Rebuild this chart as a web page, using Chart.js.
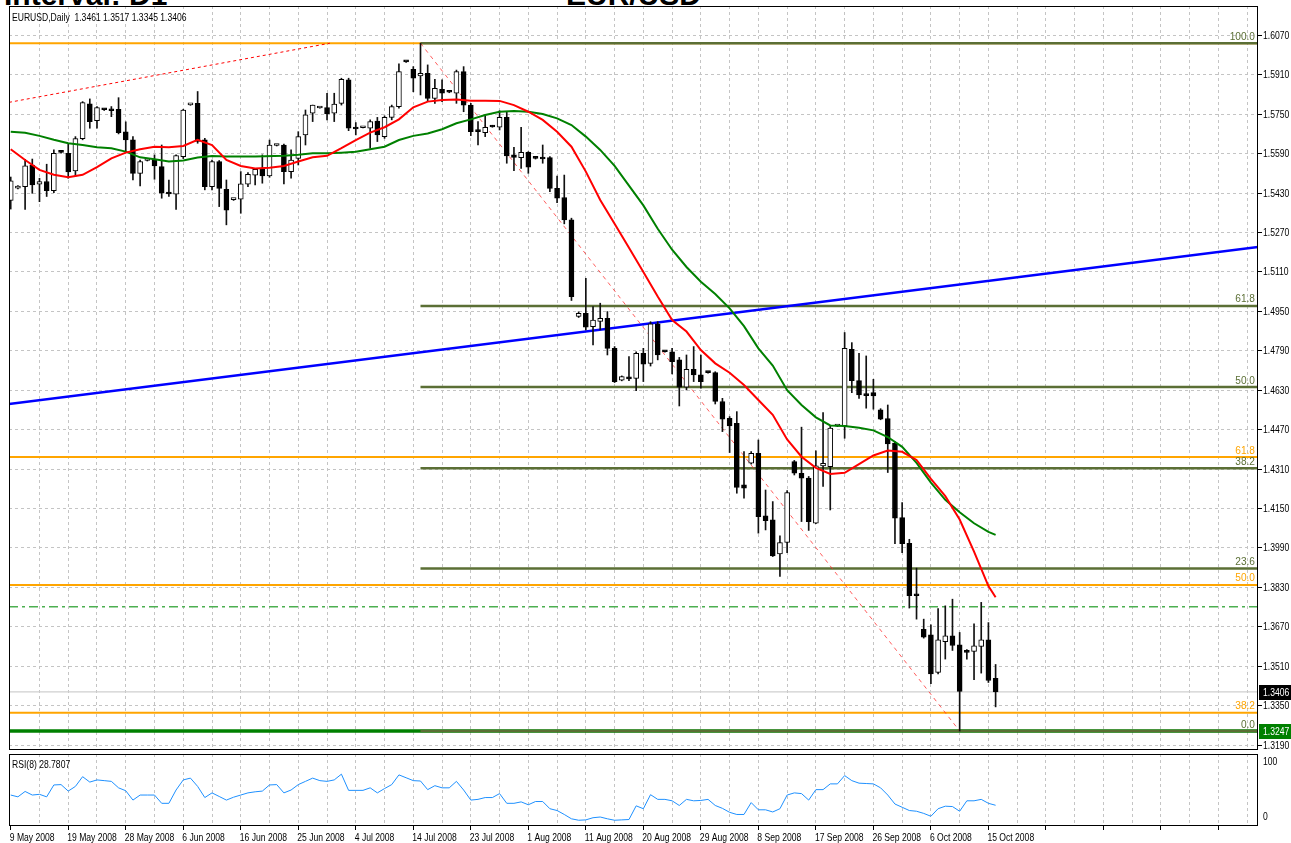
<!DOCTYPE html>
<html>
<head>
<meta charset="utf-8">
<script src="https://cdn.jsdelivr.net/npm/chart.js@4.4.1/dist/chart.umd.min.js"></script>
<style>
  body { margin: 0; background: #fff; width: 1291px; height: 843px; overflow: hidden; position: relative; }
  canvas { position: absolute; left: 0; }
  #main { top: 0; }
  #rsi { top: 752px; }
  .title { position: absolute; top: -20px; font: bold 30px 'Liberation Sans', sans-serif; line-height: 30px; white-space: nowrap; }
  .info { position: absolute; font: 11px 'Liberation Sans', sans-serif; line-height: 13px; white-space: nowrap; color: #000;
          transform: scaleX(0.78); transform-origin: 0 0; }
</style>
</head>
<body>
<div class="title" style="left:4px">Interval: D1</div>
<div class="title" style="left:566px">EUR/USD</div>
<canvas id="main" width="1291" height="752"></canvas>
<canvas id="rsi" width="1291" height="91"></canvas>
<div class="info" style="left:12px;top:11px">EURUSD,Daily&nbsp; 1.3461 1.3517 1.3345 1.3406</div>
<div class="info" style="left:12px;top:758px">RSI(8) 28.7807</div>
<script>
// EURUSD daily, 9 May - 16 Oct 2008 (broker with Sunday bars), price + RSI(8)

const PRICE_TICKS = [1.6070, 1.5910, 1.5750, 1.5590, 1.5430, 1.5270, 1.5110, 1.4950, 1.4790,
  1.4630, 1.4470, 1.4310, 1.4150, 1.3990, 1.3830, 1.3670, 1.3510, 1.3350, 1.3190];

const DATE_LABELS = ['9 May 2008', '19 May 2008', '28 May 2008', '6 Jun 2008', '16 Jun 2008',
  '25 Jun 2008', '4 Jul 2008', '14 Jul 2008', '23 Jul 2008', '1 Aug 2008', '11 Aug 2008',
  '20 Aug 2008', '29 Aug 2008', '8 Sep 2008', '17 Sep 2008', '26 Sep 2008', '6 Oct 2008', '15 Oct 2008'];

// one entry per bar, bar 0 = 9 May 2008
const OPEN = [1.5400,1.5450,1.5456,1.5543,1.5466,1.5477,1.5440,1.5597,1.5591,1.5520,
  1.5651,1.5792,1.5724,1.5770,1.5771,1.5770,1.5678,1.5646,1.5510,1.5562,
  1.5564,1.5537,1.5432,1.5425,1.5578,1.5788,1.5794,1.5646,1.5456,1.5558,
  1.5445,1.5403,1.5405,1.5466,1.5503,1.5526,1.5499,1.5623,1.5625,1.5517,
  1.5571,1.5666,1.5754,1.5775,1.5777,1.5754,1.5794,1.5889,1.5693,1.5695,
  1.5693,1.5722,1.5659,1.5737,1.5781,1.5964,1.5932,1.5905,1.5916,1.5814,
  1.5851,1.5840,1.5835,1.5923,1.5787,1.5686,1.5675,1.5703,1.5697,1.5737,
  1.5585,1.5574,1.5595,1.5573,1.5571,1.5574,1.5449,1.5412,1.5321,1.4929,
  1.4942,1.4888,1.4909,1.4922,1.4800,1.4671,1.4680,1.4678,1.4780,1.4739,
  1.4899,1.4788,1.4786,1.4753,1.4642,1.4715,1.4692,1.4703,1.4701,1.4584,
  1.4516,1.4496,1.4246,1.4334,1.4374,1.4120,1.4104,1.3966,1.4012,1.4340,
  1.4293,1.4273,1.4090,1.4323,1.4320,1.4484,1.4485,1.4796,1.4669,1.4615,
  1.4620,1.4550,1.4515,1.4415,1.4113,1.4009,1.3803,1.3660,1.3637,1.3485,
  1.3610,1.3633,1.3597,1.3568,1.3570,1.3590,1.3617,1.3461];
const HIGH = [1.5495,1.5460,1.5567,1.5568,1.5490,1.5547,1.5605,1.5600,1.5628,1.5659,
  1.5801,1.5812,1.5781,1.5772,1.5781,1.5817,1.5719,1.5659,1.5564,1.5566,
  1.5585,1.5625,1.5483,1.5585,1.5770,1.5792,1.5842,1.5652,1.5564,1.5562,
  1.5483,1.5407,1.5517,1.5513,1.5530,1.5585,1.5645,1.5627,1.5629,1.5605,
  1.5679,1.5767,1.5787,1.5779,1.5835,1.5835,1.5896,1.5896,1.5716,1.5699,
  1.5727,1.5737,1.5743,1.5787,1.5954,1.5966,1.5943,1.6038,1.5950,1.5891,
  1.5889,1.5842,1.5929,1.5943,1.5794,1.5720,1.5747,1.5705,1.5764,1.5760,
  1.5616,1.5697,1.5598,1.5575,1.5625,1.5578,1.5499,1.5503,1.5328,1.4948,
  1.5084,1.4969,1.4983,1.4949,1.4807,1.4688,1.4766,1.4786,1.4800,1.4908,
  1.4908,1.4790,1.4800,1.4763,1.4773,1.4807,1.4773,1.4705,1.4705,1.4597,
  1.4523,1.4543,1.4381,1.4381,1.4428,1.4225,1.4178,1.4039,1.4223,1.4345,
  1.4480,1.4280,1.4384,1.4539,1.4485,1.4487,1.4864,1.4823,1.4780,1.4769,
  1.4674,1.4555,1.4570,1.4422,1.4174,1.4025,1.3908,1.3701,1.3678,1.3744,
  1.3755,1.3782,1.3647,1.3577,1.3682,1.3769,1.3687,1.3517];
const LOW = [1.5365,1.5447,1.5364,1.5429,1.5395,1.5416,1.5432,1.5592,1.5490,1.5497,
  1.5646,1.5693,1.5693,1.5765,1.5740,1.5670,1.5598,1.5483,1.5459,1.5560,
  1.5486,1.5409,1.5416,1.5364,1.5570,1.5786,1.5632,1.5443,1.5443,1.5375,
  1.5301,1.5400,1.5348,1.5456,1.5463,1.5470,1.5494,1.5621,1.5467,1.5490,
  1.5544,1.5625,1.5720,1.5774,1.5727,1.5720,1.5787,1.5683,1.5666,1.5694,
  1.5612,1.5639,1.5652,1.5727,1.5774,1.5960,1.5841,1.5828,1.5801,1.5794,
  1.5801,1.5837,1.5794,1.5760,1.5663,1.5625,1.5659,1.5697,1.5686,1.5551,
  1.5521,1.5530,1.5510,1.5568,1.5551,1.5436,1.5391,1.5305,1.4994,1.4925,
  1.4875,1.4814,1.4875,1.4773,1.4661,1.4668,1.4669,1.4628,1.4665,1.4728,
  1.4753,1.4784,1.4696,1.4566,1.4631,1.4665,1.4638,1.4699,1.4574,1.4462,
  1.4377,1.4212,1.4192,1.4330,1.4050,1.4063,1.3955,1.3874,1.3971,1.4286,
  1.4097,1.4061,1.4088,1.4240,1.4144,1.4482,1.4435,1.4620,1.4597,1.4557,
  1.4553,1.4510,1.4296,1.4007,1.3971,1.3746,1.3701,1.3624,1.3439,1.3479,
  1.3539,1.3574,1.3247,1.3539,1.3455,1.3482,1.3444,1.3345];
const CLOSE = [1.5480,1.5456,1.5540,1.5463,1.5477,1.5440,1.5591,1.5595,1.5516,1.5651,
  1.5797,1.5720,1.5777,1.5768,1.5764,1.5675,1.5646,1.5510,1.5558,1.5564,
  1.5540,1.5429,1.5426,1.5582,1.5767,1.5790,1.5639,1.5456,1.5558,1.5449,
  1.5361,1.5405,1.5467,1.5506,1.5526,1.5499,1.5625,1.5625,1.5517,1.5564,
  1.5659,1.5747,1.5787,1.5777,1.5751,1.5791,1.5891,1.5693,1.5690,1.5697,
  1.5720,1.5666,1.5737,1.5781,1.5923,1.5962,1.5896,1.5916,1.5814,1.5855,
  1.5835,1.5839,1.5923,1.5787,1.5679,1.5679,1.5697,1.5698,1.5737,1.5581,
  1.5575,1.5595,1.5535,1.5571,1.5568,1.5449,1.5409,1.5321,1.5010,1.4942,
  1.4886,1.4915,1.4922,1.4800,1.4665,1.4685,1.4676,1.4780,1.4736,1.4899,
  1.4773,1.4786,1.4746,1.4642,1.4715,1.4692,1.4665,1.4701,1.4584,1.4512,
  1.4485,1.4236,1.4232,1.4374,1.4117,1.4101,1.3958,1.4012,1.4215,1.4293,
  1.4273,1.4097,1.4323,1.4333,1.4476,1.4485,1.4800,1.4669,1.4611,1.4608,
  1.4607,1.4512,1.4412,1.4111,1.4007,1.3796,1.3796,1.3628,1.3479,1.3617,
  1.3633,1.3594,1.3408,1.3566,1.3593,1.3617,1.3452,1.3406];

// moving averages, read at sampled bars
const RED_MA_BAR = [0,2,4,6,8,10,12,14,16,18,20,22,24,26,28,30,32,34,36,38,40,42,44,46,48,50,52,54,56,58,
  60,62,64,66,68,70,72,74,76,78,80,82,84,86,88,90,92,94,96,98,100,102,104,106,108,110,112,114,116,118,
  120,122,124,126,128,130,132,134,136,137];
const RED_MA = [1.5608,1.5564,1.5524,1.5504,1.5494,1.5504,1.5535,1.5571,1.5594,1.5608,1.5618,1.5616,1.5621,1.5646,1.5625,
  1.5564,1.5540,1.5530,1.5533,1.5540,1.5558,1.5575,1.5581,1.5612,1.5645,1.5675,1.5697,1.5729,1.5778,1.5801,
  1.5808,1.5810,1.5805,1.5805,1.5804,1.5787,1.5760,1.5727,1.5679,1.5618,1.5517,1.5402,1.5305,1.5208,1.5110,
  1.5010,1.4915,1.4868,1.4793,1.4739,1.4701,1.4651,1.4590,1.4530,1.4430,1.4360,1.4315,1.4290,1.4295,1.4330,
  1.4365,1.4385,1.4380,1.4347,1.4270,1.4200,1.4105,1.3975,1.3835,1.3790];
const GREEN_MA_BAR = [0,2,4,6,8,10,12,14,16,18,20,22,24,26,28,30,34,38,40,42,44,46,48,50,52,54,56,58,
  60,62,64,66,68,70,72,74,76,78,80,82,84,86,88,90,92,94,96,98,100,102,104,106,108,110,112,114,116,118,
  120,122,124,126,128,130,132,134,136,137];
const GREEN_MA = [1.5679,1.5675,1.5662,1.5646,1.5632,1.5625,1.5616,1.5612,1.5598,1.5575,1.5567,1.5558,1.5562,1.5574,
  1.5580,1.5578,1.5578,1.5581,1.5585,1.5591,1.5591,1.5594,1.5598,1.5608,1.5618,1.5645,1.5662,1.5672,
  1.5689,1.5713,1.5729,1.5747,1.5760,1.5763,1.5760,1.5751,1.5733,1.5706,1.5659,1.5605,1.5540,1.5460,
  1.5380,1.5285,1.5200,1.5130,1.5070,1.5020,1.4962,1.4890,1.4800,1.4730,1.4630,1.4570,1.4520,1.4487,
  1.4485,1.4478,1.4467,1.4440,1.4400,1.4335,1.4255,1.4185,1.4135,1.4090,1.4055,1.4043];

const RSI = [43,40.5,48,43,44,40.5,57,57.5,48.5,55,68.5,61,64,63,62,53,49,36,43,43,
  43,31.5,31.5,50,64,66.5,55,39.5,46,41,36,40,43,46,47.5,48.5,57,57.5,46,50,
  57.5,62,66.5,63,62,64,72,49.5,49.5,49.5,53,46,52,57.5,71,67,63,62.5,50.5,56,
  53,53,62,50,36,37,39.5,39.5,45,31.5,31.5,33.5,29.5,34,34,24,21.5,16,10,8,
  8.5,11.5,12.5,10,8,8.5,9,28,24,43.5,37,37,35,28.5,37,35,35.5,37,28.5,24.5,
  19,16,16,32.5,22.5,22.5,19.5,24,43,46,45,36,50.5,50.5,58.5,58.5,70,63,59.5,59,
  58.5,53,43,30.5,26,21.5,20.5,17.5,13.5,24,27.5,27,20.5,35,35,37,31.5,28.78];

// fibonacci levels and objects
const FIB_GREEN = [1.6038, 1.4972, 1.4643, 1.4313, 1.3906, 1.3247];
const FIB_GREEN_TXT = ['100.0', '61.8', '50.0', '38.2', '23.6', '0.0'];
const FIB_GREEN_FROM = 57;
const FIB_ORANGE = [1.6038, 1.4359, 1.3840, 1.3321];
const FIB_ORANGE_TXT = ['', '61.8', '50.0', '38.2'];
const BLUE_TL = [1.4574, 1.5211];            // at left and right edge
const RED_TL_BAR = [-0.24, 44.4], RED_TL = [1.5798, 1.6038];
const DOWN_TL_BAR = [57, 132], DOWN_TL = [1.6038, 1.3247];
const DASHDOT_LEVEL = 1.3751;
const LAST_PRICE = 1.3406;
const SUPPORT = 1.3247;

const X_MIN = -0.24, X_MAX = 173.5;
const Y_MIN = 1.3170, Y_MAX = 1.6189;

const OLIVE = '#5b6f35', ORANGE = '#ffa500', GRID = '#c4c4c4';
const FONT = "'Liberation Sans', sans-serif";
const NARROW = 0.78;   // terminal font is much narrower than Liberation

Chart.defaults.font.family = FONT;
Chart.defaults.color = '#000';

const bars = OPEN.map((_, i) => i);
const hline = (v, from = X_MIN) => [{ x: from, y: v }, { x: X_MAX, y: v }];
const lineDs = (data, color, width, extra = {}) => ({
  type: 'line', data, borderColor: color, borderWidth: width,
  pointRadius: 0, tension: 0, fill: false, ...extra,
});

function xTicks(s) {
  s.ticks = [];
  for (let v = 0; v <= X_MAX; v += 4) s.ticks.push({ value: v });
}

// squeezed text, like the terminal's small font
function narrowText(ctx, txt, x, y, align = 'left', base = 'middle', sx = NARROW) {
  ctx.save();
  ctx.translate(x, y);
  ctx.scale(sx, 1);
  ctx.textAlign = align;
  ctx.textBaseline = base;
  ctx.fillText(txt, 0, 0);
  ctx.restore();
}

const frame = {
  id: 'frame',
  afterDraw(chart) {
    const { ctx, chartArea: a } = chart;
    ctx.save();
    ctx.strokeStyle = '#000';
    ctx.lineWidth = 1;
    ctx.strokeRect(a.left + 0.5, a.top + 0.5, a.width - 1, a.height - 1);
    ctx.restore();
  }
};

const priceOverlay = {
  id: 'priceOverlay',
  afterDraw(chart) {
    const { ctx, chartArea: a, scales: { y } } = chart;
    ctx.save();
    ctx.font = '11px ' + FONT;
    FIB_ORANGE.forEach((v, i) => {
      if (!FIB_ORANGE_TXT[i]) return;
      ctx.fillStyle = ORANGE;
      narrowText(ctx, FIB_ORANGE_TXT[i], a.right - 3, y.getPixelForValue(v) - 1, 'right', 'bottom', 0.92);
    });
    FIB_GREEN.forEach((v, i) => {
      ctx.fillStyle = OLIVE;
      narrowText(ctx, FIB_GREEN_TXT[i], a.right - 3, y.getPixelForValue(v) - 1, 'right', 'bottom', 0.92);
    });
    // price axis labels
    ctx.fillStyle = '#000';
    PRICE_TICKS.forEach(v => narrowText(ctx, v.toFixed(4), a.right + 5, y.getPixelForValue(v) + 0.5));
    // current price + support boxes on the axis
    [[LAST_PRICE, '#000'], [SUPPORT, '#008000']].forEach(([v, bg]) => {
      const py = Math.round(y.getPixelForValue(v));
      ctx.fillStyle = bg;
      ctx.fillRect(a.right + 1, py - 7, chart.width - a.right - 1, 15);
      ctx.fillStyle = '#fff';
      narrowText(ctx, v.toFixed(4), a.right + 5, py + 1);
    });
    ctx.restore();
  }
};

const rsiLabels = {
  id: 'rsiLabels',
  afterDraw(chart) {
    const { ctx, chartArea: a, scales: { x } } = chart;
    ctx.save();
    ctx.font = '11px ' + FONT;
    ctx.fillStyle = '#000';
    narrowText(ctx, '100', a.right + 5, a.top + 8);
    narrowText(ctx, '0', a.right + 5, a.bottom - 9);
    DATE_LABELS.forEach((t, i) => narrowText(ctx, t, x.getPixelForValue(i * 8) - 1, a.bottom + 12));
    ctx.restore();
  }
};

new Chart(document.getElementById('main'), {
  type: 'bar',
  data: {
    datasets: [
      lineDs(RED_MA_BAR.map((b, i) => ({ x: b, y: RED_MA[i] })), '#ff0000', 2),
      lineDs(GREEN_MA_BAR.map((b, i) => ({ x: b, y: GREEN_MA[i] })), '#008000', 2),
      {
        data: bars.map(i => ({ x: i, y: [OPEN[i], CLOSE[i]] })),
        backgroundColor: bars.map(i => CLOSE[i] >= OPEN[i] ? '#fff' : '#000'),
        borderColor: '#000', borderWidth: 1, borderSkipped: false,
        barThickness: 5, minBarLength: 2, grouped: false,
      },
      {
        data: bars.map(i => ({ x: i, y: [LOW[i], HIGH[i]] })),
        backgroundColor: '#111', borderWidth: 0,
        barThickness: 1, grouped: false,
      },
      lineDs([{ x: X_MIN, y: BLUE_TL[0] }, { x: X_MAX, y: BLUE_TL[1] }], '#0000ff', 2.5),
      lineDs(RED_TL_BAR.map((b, i) => ({ x: b, y: RED_TL[i] })), '#ff0000', 1, { borderDash: [3, 3] }),
      lineDs(DOWN_TL_BAR.map((b, i) => ({ x: b, y: DOWN_TL[i] })), 'rgba(255,40,40,0.75)', 1, { borderDash: [4, 4] }),
      lineDs(hline(DASHDOT_LEVEL), '#4caf50', 1.5, { borderDash: [9, 4, 3, 4] }),
      lineDs(hline(LAST_PRICE), '#cfcfcf', 1.2),
      ...FIB_GREEN.map(v => lineDs(hline(v, FIB_GREEN_FROM), OLIVE, 2.5)),
      lineDs(hline(SUPPORT), '#008000', 3.5),
      ...FIB_ORANGE.map(v => lineDs(hline(v), ORANGE, 2)),
    ]
  },
  options: {
    responsive: false, animation: false, devicePixelRatio: 1, events: [],
    layout: { padding: { left: 9, top: 6, right: 0, bottom: 2 } },
    plugins: { legend: { display: false }, tooltip: { enabled: false } },
    scales: {
      x: {
        type: 'linear', min: X_MIN, max: X_MAX, offset: false,
        afterBuildTicks: xTicks,
        afterFit: s => { s.height = 0; s.paddingLeft = 0; s.paddingRight = 0; },
        ticks: { display: false },
        grid: { color: c => c.tick && c.tick.value === 0 ? 'rgba(0,0,0,0)' : GRID, drawTicks: false, offset: false },
        border: { display: false, dash: [3, 3] },
      },
      y: {
        position: 'right', min: Y_MIN, max: Y_MAX,
        afterBuildTicks: s => { s.ticks = PRICE_TICKS.map(v => ({ value: v })); },
        afterFit: s => { s.width = 33; s.paddingTop = 0; s.paddingBottom = 0; },
        ticks: { display: false },
        grid: { color: GRID, tickColor: '#000', tickLength: 4 },
        border: { display: false, dash: [3, 3] },
      }
    }
  },
  plugins: [priceOverlay, frame]
});

new Chart(document.getElementById('rsi'), {
  type: 'line',
  data: {
    datasets: [lineDs(RSI.map((v, i) => ({ x: i, y: v })), '#1e90ff', 1)]
  },
  options: {
    responsive: false, animation: false, devicePixelRatio: 1, events: [],
    layout: { padding: { left: 9, top: 2, right: 0, bottom: 0 } },
    plugins: { legend: { display: false }, tooltip: { enabled: false } },
    scales: {
      x: {
        type: 'linear', min: X_MIN, max: X_MAX, offset: false,
        afterBuildTicks: xTicks,
        afterFit: s => { s.height = 17; s.paddingLeft = 0; s.paddingRight = 0; },
        ticks: { display: false },
        grid: {
          color: c => c.tick && c.tick.value === 0 ? 'rgba(0,0,0,0)' : GRID,
          tickColor: c => c.tick && c.tick.value % 8 === 0 ? '#000' : 'rgba(0,0,0,0)',
          tickLength: 4,
        },
        border: { display: false, dash: [3, 3] },
      },
      y: {
        position: 'right', min: 0, max: 100,
        afterFit: s => { s.width = 33; s.paddingTop = 0; s.paddingBottom = 0; },
        ticks: { display: false },
        grid: { display: false },
        border: { display: false },
      }
    }
  },
  plugins: [rsiLabels, frame]
});
</script>
</body>
</html>
